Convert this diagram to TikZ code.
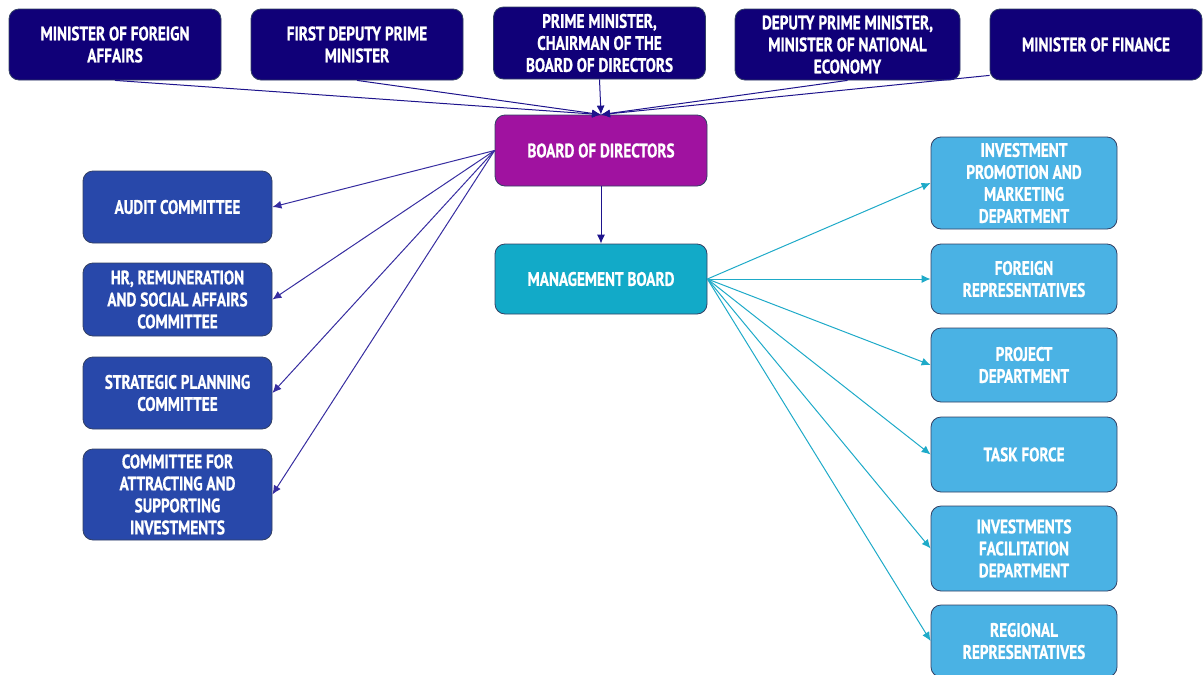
\documentclass[tikz,border=0pt]{standalone}
\usepackage{fontspec}
\setmainfont{PT Sans Bold}[FakeStretch=0.78,FakeBold=0.8]
\usetikzlibrary{arrows.meta}
\definecolor{navy}{RGB}{16,0,120}
\definecolor{bodc}{RGB}{160,18,160}
\definecolor{mbc}{RGB}{18,170,200}
\definecolor{leftc}{RGB}{40,72,170}
\definecolor{rightc}{RGB}{74,178,228}
\definecolor{boxline}{RGB}{50,64,100}
\definecolor{arrnavy}{RGB}{30,20,140}
\definecolor{arrleft}{RGB}{55,45,160}
\definecolor{arrteal}{RGB}{30,170,200}
\begin{document}
\begin{tikzpicture}[x=1pt,y=-1pt,
  box/.style={draw=boxline, line width=0.8pt, rounded corners=10pt, text=white,
    font=\fontsize{19.5}{22}\selectfont, align=center, inner sep=0pt},
  topbox/.style={box, fill=navy, minimum width=212pt, minimum height=71pt},
  leftbox/.style={box, fill=leftc, minimum width=189pt},
  rightbox/.style={box, fill=rightc, minimum width=186pt},
  toparr/.style={draw=arrnavy, line width=1pt, -{Latex[length=9pt,width=8pt]}},
  leftarr/.style={draw=arrleft, line width=1pt, -{Latex[length=9pt,width=8pt]}},
  rightarr/.style={draw=arrteal, line width=1pt, -{Latex[length=9pt,width=8pt]}}]
\useasboundingbox (0,0) rectangle (1203,675);
% top row
\node[topbox] (mfa) at (115,44.5) {MINISTER OF FOREIGN\\AFFAIRS};
\node[topbox] (fdpm) at (357,44.5) {FIRST DEPUTY PRIME\\MINISTER};
\node[topbox, minimum height=72pt] (pm) at (599.5,43) {PRIME MINISTER,\\CHAIRMAN OF THE\\BOARD OF DIRECTORS};
\node[topbox, minimum width=225pt] (dpm) at (847.5,44.5) {DEPUTY PRIME MINISTER,\\MINISTER OF NATIONAL\\ECONOMY};
\node[topbox] (mf) at (1096,44.5) {MINISTER OF FINANCE};
% centre
\node[box, fill=bodc, minimum width=212pt, minimum height=71pt] (bod) at (601,150.5) {BOARD OF DIRECTORS};
\node[box, fill=mbc, minimum width=212pt, minimum height=70pt] (mb) at (601,279) {MANAGEMENT BOARD};
% left committees
\node[leftbox, minimum height=72pt] (audit) at (177.5,207) {AUDIT COMMITTEE};
\node[leftbox, minimum height=73pt] (hr) at (177.5,299.5) {HR, REMUNERATION\\AND SOCIAL AFFAIRS\\COMMITTEE};
\node[leftbox, minimum height=72pt] (spc) at (177.5,393) {STRATEGIC PLANNING\\COMMITTEE};
\node[leftbox, minimum height=91pt] (casi) at (177.5,494.5) {COMMITTEE FOR\\ATTRACTING AND\\SUPPORTING\\INVESTMENTS};
% right departments
\node[rightbox, minimum height=92pt] (ipm) at (1024,183) {INVESTMENT\\PROMOTION AND\\MARKETING\\DEPARTMENT};
\node[rightbox, minimum height=70pt] (fr) at (1024,279) {FOREIGN\\REPRESENTATIVES};
\node[rightbox, minimum height=74pt] (pd) at (1024,365) {PROJECT\\DEPARTMENT};
\node[rightbox, minimum height=75pt] (tf) at (1024,454.5) {TASK FORCE};
\node[rightbox, minimum height=85pt] (ifd) at (1024,548.5) {INVESTMENTS\\FACILITATION\\DEPARTMENT};
\node[rightbox, minimum height=72pt] (rr) at (1024,641) {REGIONAL\\REPRESENTATIVES};
% connectors top
\draw[toparr] (mfa.south) -- (bod.north);
\draw[toparr] (fdpm.south) -- (bod.north);
\draw[toparr] (pm.south) -- (bod.north);
\draw[toparr] (dpm.south) -- (bod.north);
\draw[toparr] ([yshift=5pt]mf.south west) -- (bod.north);
\draw[toparr] (bod.south) -- (mb.north);
% connectors left
\draw[leftarr] (bod.west) -- (audit.east);
\draw[leftarr] (bod.west) -- (hr.east);
\draw[leftarr] (bod.west) -- (spc.east);
\draw[leftarr] (bod.west) -- (casi.east);
% connectors right
\draw[rightarr] (mb.east) -- (ipm.west);
\draw[rightarr] (mb.east) -- (fr.west);
\draw[rightarr] (mb.east) -- (pd.west);
\draw[rightarr] (mb.east) -- (tf.west);
\draw[rightarr] (mb.east) -- (ifd.west);
\draw[rightarr] (mb.east) -- (rr.west);
\end{tikzpicture}
\end{document}
